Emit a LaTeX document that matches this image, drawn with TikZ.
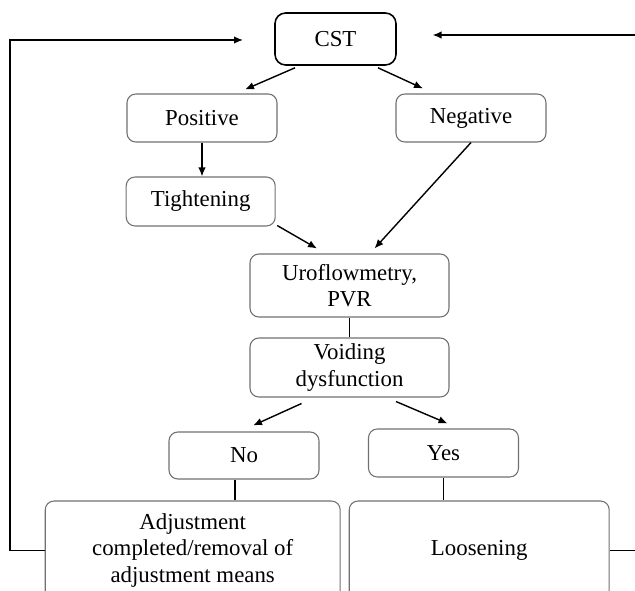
\documentclass[tikz,border=0pt]{standalone}
\usepackage{fontspec}
\setmainfont{Liberation Serif}
\usepackage{tikz}
\usetikzlibrary{arrows.meta,positioning,calc}
\definecolor{edge}{HTML}{707070}

\begin{document}
\begin{tikzpicture}[x=0.02cm,y=-0.02cm,
 box/.style={draw=edge,rounded corners=5pt,line width=0.6pt,align=center,inner sep=2pt,font=\fontsize{13}{15}\selectfont},
 topbox/.style={box,draw=black,line width=0.9pt,rounded corners=6pt},
 link/.style={line width=0.8pt,-{Latex[length=1.8mm,width=1.5mm]}},
 plain/.style={line width=0.8pt}]
\useasboundingbox (0,0) rectangle (635,591);
\clip (0,0) rectangle (635,591);
\node[topbox,minimum width=2.42cm,minimum height=1.04cm] (cst) at (335.5,39) {CST};
\node[box,minimum width=3.0cm,minimum height=0.96cm] (pos) at (202,118) {Positive};
\node[box,minimum width=3.0cm,minimum height=0.96cm] (neg) at (471,118) {Negative};
\node[box,minimum width=2.98cm,minimum height=0.98cm] (tight) at (200.7,201.5) {Tightening};
\node[box,minimum width=3.98cm,minimum height=1.26cm] (uro) at (349.5,285.5) {Uroflowmetry,\\PVR};
\node[box,minimum width=3.98cm,minimum height=1.18cm] (void) at (349.5,367.5) {Voiding\\dysfunction};
\node[box,minimum width=3.0cm,minimum height=0.94cm] (no) at (244,455.5) {No};
\node[box,minimum width=3.0cm,minimum height=0.96cm] (yes) at (443.5,453) {Yes};
\node[box,minimum width=5.9cm,minimum height=1.98cm,font=\fontsize{13}{15.3}\selectfont] (adj) at (192.7,550.5) {Adjustment\\completed/removal of\\adjustment means};
\node[box,minimum width=5.2cm,minimum height=1.98cm] (loos) at (479.2,550.5) {Loosening};

\coordinate (inL) at (243,40);
\coordinate (cornerL) at (10,40);
\coordinate (inR) at (432.6,35);
\coordinate (cornerR) at (650,35);

\draw[link] ([xshift=-0.81cm,yshift=-0.04cm]cst.south) -- ([xshift=0.86cm,yshift=0.08cm]pos.north);
\draw[link] ([xshift=0.85cm,yshift=-0.04cm]cst.south) -- ([xshift=-0.96cm,yshift=0.1cm]neg.north);
\draw[link] (pos.south) -- (pos.south |- tight.north);
\draw[link] ([xshift=0.03cm,yshift=0.02cm]tight.south east) -- ([xshift=-0.65cm,yshift=0.1cm]uro.north);
\draw[link] (neg.south) -- ([xshift=0.5cm,yshift=0.1cm]uro.north);
\draw[plain] (uro.south) -- (void.north);
\draw[link] ([xshift=-0.96cm,yshift=-0.12cm]void.south) -- ([xshift=0.18cm,yshift=0.12cm]no.north);
\draw[link] ([xshift=0.93cm,yshift=-0.08cm]void.south) -- ([xshift=0.08cm,yshift=0.1cm]yes.north);
\draw[plain] ([xshift=-0.18cm]no.south) -- ([xshift=-0.18cm]no.south |- adj.north);
\draw[plain] (yes.south) -- (yes.south |- loos.north);
% loops back to the test
\draw[link] (adj.west) -| (cornerL) -- (inL);
\draw[link] (loos.east) -| (cornerR) -- (inR);
\end{tikzpicture}
\end{document}
